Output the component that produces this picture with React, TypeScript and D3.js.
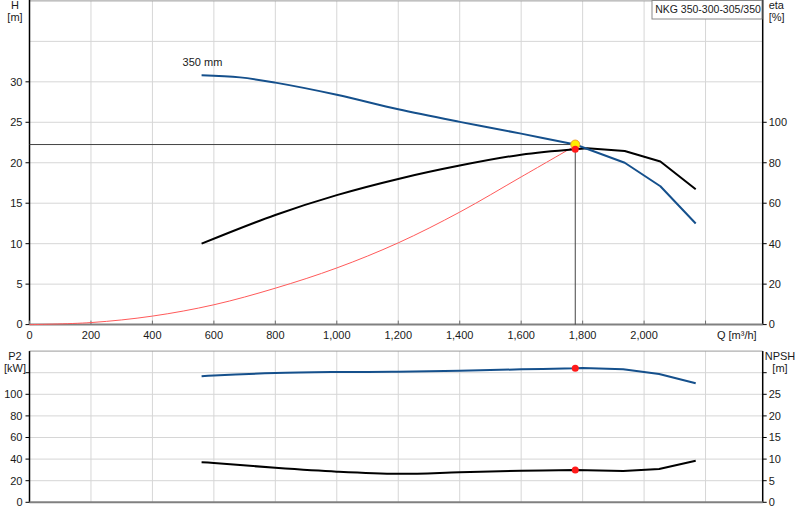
import React from 'react';
import * as d3 from 'd3';

// pump head curve, 350 mm impeller
const qHead = [560, 685, 800, 1000, 1200, 1400, 1600, 1776, 1937, 2053, 2168];
const head = [30.8, 30.55, 29.9, 28.4, 26.6, 25.05, 23.6, 22.25, 20.0, 17.1, 12.5];

// efficiency (right axis, %)
const qEta = [560, 800, 1000, 1200, 1400, 1600, 1776, 1815, 1937, 2053, 2168];
const eta = [40, 54.2, 64.0, 72.0, 78.6, 84.0, 86.7, 87.2, 85.8, 80.6, 66.9];

// system curve
const qSys = [0, 200, 400, 600, 800, 1000, 1200, 1400, 1600, 1776];
const hSys = [0, 0.25, 1.05, 2.45, 4.5, 7.0, 10.1, 13.9, 18.25, 22.1];

// shaft power P2
const qP2 = [560, 600, 800, 1000, 1200, 1400, 1600, 1776, 1800, 1932, 2049, 2168];
const p2 = [116.7, 117.4, 119.7, 120.6, 120.9, 121.9, 123.1, 124.1, 124.4, 123.1, 118.8, 110.2];

// NPSH
const qNpsh = [560, 600, 800, 1000, 1200, 1400, 1600, 1776, 1932, 2049, 2168];
const npsh = [9.26, 9.1, 8.0, 7.1, 6.6, 6.94, 7.3, 7.48, 7.25, 7.7, 9.63];

// duty point
const dutyQ = 1776;
const dutyH = 22.25;
const dutyEta = 86.7;
const dutyP2 = 124.1;
const dutyNpsh = 7.48;

const qTicks = [0, 200, 400, 600, 800, 1000, 1200, 1400, 1600, 1800, 2000, 2200];
const headTicks = [0, 5, 10, 15, 20, 25, 30];
const headGrid = [5, 10, 15, 20, 25, 30, 35];
const etaTicks = [0, 20, 40, 60, 80, 100];
const p2Ticks = [0, 20, 40, 60, 80, 100, 120];
const npshTicks = [0, 5, 10, 15, 20, 25, 30];

const title = 'NKG 350-300-305/350';

const W = 800;
const H = 520;
const left = 29.5;
const right = 762.7;
const topY0 = 324.6;
const topY1 = 0.9;
const botY0 = 502.3;
const botY1 = 351.1;

const font = 'Liberation Sans, Arial, sans-serif';
const gridColor = '#d6d6d6';
const blue = '#15508c';
const textColor = '#1a1a1a';

const zip = (xs: number[], ys: number[]) => xs.map((x, i) => [x, ys[i]] as [number, number]);

export default function App() {
  const x = d3.scaleLinear().domain([0, 2386]).range([left, right]);
  const yH = d3.scaleLinear().domain([0, 40]).range([topY0, topY1]);
  const yEta = d3.scaleLinear().domain([0, 160]).range([topY0, topY1]);
  const yP2 = d3.scaleLinear().domain([0, 140]).range([botY0, botY1]);
  const yNpsh = d3.scaleLinear().domain([0, 35]).range([botY0, botY1]);

  // smooth up to the duty point, straight segments beyond it (like the source plot)
  const curvePath = (xs: number[], ys: number[], sy: d3.ScaleLinear<number, number>, smooth = true) => {
    const pts = zip(xs, ys);
    const k = xs.indexOf(dutyQ);
    const smoothLine = d3.line<[number, number]>().x(d => x(d[0])).y(d => sy(d[1])).curve(d3.curveCatmullRom.alpha(0.5));
    const straight = d3.line<[number, number]>().x(d => x(d[0])).y(d => sy(d[1]));
    if (!smooth || k < 0) return smoothLine(pts) ?? '';
    return (smoothLine(pts.slice(0, k + 1)) ?? '') + (straight(pts.slice(k)) ?? '');
  };

  const fmt = d3.format(',');
  const labelX = x(qHead[0]) - 19;
  const labelY = yH(head[0]) - 9;

  return (
    <div style={{ position: 'fixed', left: 0, top: 0 }}>
      <svg width={W} height={H} style={{ display: 'block', background: '#fff' }} fontFamily={font} fontSize={11}>
        {/* grid, top panel */}
        {qTicks.slice(1).map(t => (
          <line key={'vt' + t} x1={x(t)} x2={x(t)} y1={topY1} y2={topY0} stroke={gridColor} />
        ))}
        {headGrid.map(t => (
          <line key={'ht' + t} x1={left} x2={right} y1={yH(t)} y2={yH(t)} stroke={gridColor} />
        ))}
        <line x1={left} x2={right} y1={topY1} y2={topY1} stroke="#9a9a9a" />

        {/* grid, bottom panel */}
        {qTicks.slice(1).map(t => (
          <line key={'vb' + t} x1={x(t)} x2={x(t)} y1={botY1} y2={botY0} stroke={gridColor} />
        ))}
        {p2Ticks.slice(1).map(t => (
          <line key={'hb' + t} x1={left} x2={right} y1={yP2(t)} y2={yP2(t)} stroke={gridColor} />
        ))}
        <line x1={left} x2={right} y1={botY1} y2={botY1} stroke="#9a9a9a" />

        {/* axes top */}
        <line x1={left} x2={left} y1={0} y2={topY0} stroke="#000" strokeWidth={1.5} />
        <line x1={right} x2={right} y1={0} y2={topY0} stroke="#000" strokeWidth={1.5} />
        <line x1={left} x2={right} y1={topY0} y2={topY0} stroke="#808080" strokeWidth={2} />
        {headTicks.map(t => (
          <g key={'hl' + t}>
            <line x1={left - 4} x2={left} y1={yH(t)} y2={yH(t)} stroke="#000" />
            <text x={left - 7} y={yH(t)} dy="0.35em" textAnchor="end" fill={textColor}>{t}</text>
          </g>
        ))}
        {etaTicks.map(t => (
          <g key={'el' + t}>
            <line x1={right} x2={right + 4} y1={yEta(t)} y2={yEta(t)} stroke="#000" />
            <text x={right + 6} y={yEta(t)} dy="0.35em" fill={textColor}>{t}</text>
          </g>
        ))}
        {qTicks.map(t => (
          <g key={'ql' + t}>
            <line x1={x(t)} x2={x(t)} y1={topY0 - 4} y2={topY0} stroke="#707070" />
            {t <= 2000 && (
              <text x={x(t)} y={topY0 + 11} dy="0.35em" textAnchor="middle" fill={textColor}>{fmt(t)}</text>
            )}
          </g>
        ))}
        <text x={right - 6} y={topY0 + 11} dy="0.35em" textAnchor="end" fill={textColor}>Q [m³/h]</text>
        <text x={15} y={5} dy="0.35em" textAnchor="middle" fill={textColor}>H</text>
        <text x={15} y={17} dy="0.35em" textAnchor="middle" fill={textColor}>[m]</text>
        <text x={right + 6} y={5} dy="0.35em" fill={textColor}>eta</text>
        <text x={right + 6} y={17} dy="0.35em" fill={textColor}>[%]</text>

        {/* axes bottom */}
        <line x1={left} x2={left} y1={botY1} y2={botY0} stroke="#000" strokeWidth={1.5} />
        <line x1={right} x2={right} y1={botY1} y2={botY0} stroke="#000" strokeWidth={1.5} />
        <line x1={left} x2={right} y1={botY0} y2={botY0} stroke="#808080" strokeWidth={2} />
        {p2Ticks.map(t => (
          <g key={'pl' + t}>
            <line x1={left - 4} x2={left} y1={yP2(t)} y2={yP2(t)} stroke="#000" />
            {t <= 100 && (
              <text x={left - 7} y={yP2(t)} dy="0.35em" textAnchor="end" fill={textColor}>{t}</text>
            )}
          </g>
        ))}
        {npshTicks.map(t => (
          <g key={'nl' + t}>
            <line x1={right} x2={right + 4} y1={yNpsh(t)} y2={yNpsh(t)} stroke="#000" />
            {t <= 25 && (
              <text x={right + 6} y={yNpsh(t)} dy="0.35em" fill={textColor}>{t}</text>
            )}
          </g>
        ))}
        <text x={15} y={356} dy="0.35em" textAnchor="middle" fill={textColor}>P2</text>
        <text x={15} y={368} dy="0.35em" textAnchor="middle" fill={textColor}>[kW]</text>
        <text x={780} y={356} dy="0.35em" textAnchor="middle" fill={textColor}>NPSH</text>
        <text x={780} y={368} dy="0.35em" textAnchor="middle" fill={textColor}>[m]</text>

        {/* duty lines */}
        <line x1={left} x2={x(dutyQ)} y1={yH(dutyH)} y2={yH(dutyH)} stroke="#444" />
        <line x1={x(dutyQ)} x2={x(dutyQ)} y1={yH(dutyH)} y2={topY0} stroke="#444" />

        {/* curves */}
        <path d={curvePath(qSys, hSys, yH, false)} fill="none" stroke="#ff5a5a" strokeWidth={1} />
        <path d={curvePath(qEta, eta, yEta)} fill="none" stroke="#000" strokeWidth={2} strokeLinejoin="round" />
        <path d={curvePath(qHead, head, yH)} fill="none" stroke={blue} strokeWidth={2} strokeLinejoin="round" />
        <path d={curvePath(qP2, p2, yP2)} fill="none" stroke={blue} strokeWidth={2} strokeLinejoin="round" />
        <path d={curvePath(qNpsh, npsh, yNpsh)} fill="none" stroke="#000" strokeWidth={2} strokeLinejoin="round" />

        <text x={labelX} y={labelY} fill={textColor}>350 mm</text>

        {/* duty markers */}
        <circle cx={x(dutyQ)} cy={yH(dutyH)} r={4.5} fill="#ffee00" stroke="#f0a030" strokeWidth={1} />
        <circle cx={x(dutyQ)} cy={yEta(dutyEta)} r={3.5} fill="#ff1a1a" />
        <circle cx={x(dutyQ)} cy={yP2(dutyP2)} r={3.5} fill="#ff1a1a" />
        <circle cx={x(dutyQ)} cy={yNpsh(dutyNpsh)} r={3.5} fill="#ff1a1a" />

        {/* title box */}
        <rect x={652} y={0.5} width={110} height={18.5} fill="#fff" stroke="#8a8a8a" />
        <text x={708} y={9.5} dy="0.35em" textAnchor="middle" fontSize={10.5} fill={textColor}>{title}</text>
      </svg>
    </div>
  );
}
